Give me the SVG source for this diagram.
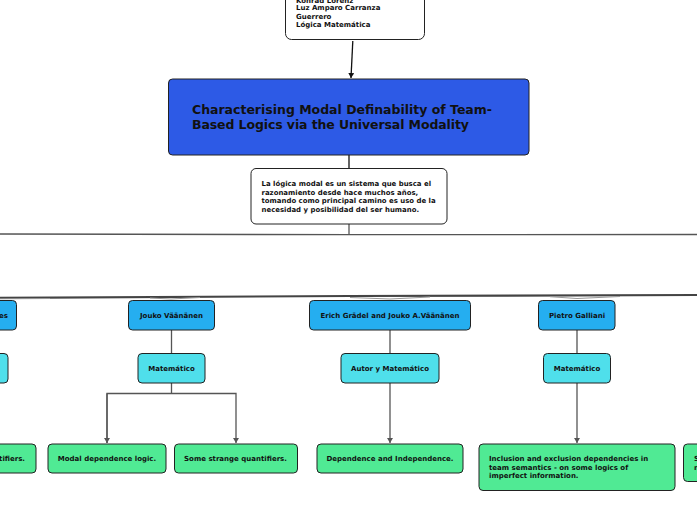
<svg xmlns="http://www.w3.org/2000/svg" width="697" height="520" viewBox="0 0 697 520">
<style>
text{font-family:"DejaVu Sans",sans-serif;font-weight:700;fill:#111;font-size:7px}
.c{text-anchor:middle}
.n{stroke:#222;stroke-width:1}
.a{fill:#25aef0}.b{fill:#4fdfeb}.g{fill:#50ea94}
.l{fill:none;stroke:#555;stroke-width:1.3}
.k{fill:none;stroke:#111;stroke-width:1.3}
.s{fill:none;stroke:#999;stroke-width:1}
</style>
<defs>
<marker id="m" markerWidth="6" markerHeight="6" refX="5" refY="3" orient="auto" markerUnits="userSpaceOnUse"><path d="M0 0L5 3L0 6z" fill="#555"/></marker>
<marker id="k" markerWidth="6" markerHeight="6" refX="5" refY="3" orient="auto" markerUnits="userSpaceOnUse"><path d="M0 0L5 3L0 6z" fill="#111"/></marker>
</defs>
<g id="connectors">
<path class="k" d="M352.800 41L351 78" marker-end="url(#k)"/>
<path class="k" d="M349 155V169"/>
<path class="l" d="M349 224V234"/>
<path class="l" d="M0 234L349 234.700L697 234.500"/>
<path d="M0 297.800L350 296L697 295" fill="none" stroke="#444" stroke-width="2.200"/>
<path class="s" d="M0 298.800L50 298.500M150 298L171 299L200 297.500M350 297.500L390 299L430 297M550 296.700L577 298.500L620 296.500"/>
<path class="l" d="M171.500 330V353M390 330V353M577 330V353"/>
<path class="l" d="M171.500 383V393.500"/>
<path class="l" d="M107 443V393.500H236V443" marker-end="url(#m)"/>
<path class="l" d="M107 393.500V443" marker-end="url(#m)"/>
<path class="l" d="M390 383V443" marker-end="url(#m)"/>
<path class="l" d="M577 383V443" marker-end="url(#m)"/>
</g>
<g id="author"><rect class="n" x="285.500" y="-30" width="139" height="69.500" rx="6" fill="#fff"/>
<text x="296" y="3">Konrad Lorenz</text><text x="296" y="10">Luz Amparo Carranza</text><text x="296" y="18.500">Guerrero</text><text x="296" y="27">Lógica Matemática</text></g>
<g id="title"><rect class="n" x="168.500" y="79" width="360.500" height="76" rx="4" fill="#2d5ae6"/>
<text style="font-size:12.500px" x="192" y="114" textLength="300">Characterising Modal Definability of Team-</text><text style="font-size:12.500px" x="192" y="129" textLength="277">Based Logics via the Universal Modality</text></g>
<g id="summary"><rect class="n" x="251" y="168.500" width="196" height="55.500" rx="5" fill="#fff"/>
<text style="font-size:6.950px" x="261.500" y="186">La lógica modal es un sistema que busca el</text><text style="font-size:6.950px" x="261.500" y="195">razonamiento desde hace muchos años,</text><text style="font-size:6.950px" x="261.500" y="203">tomando como principal camino es uso de la</text><text style="font-size:6.950px" x="261.500" y="212">necesidad y posibilidad del ser humano.</text></g>
<g id="n-left-a"><rect class="n a" x="-40" y="300.500" width="56.500" height="29.500" rx="4"/><text x="-1" y="318">es</text></g>
<g id="n-left-b"><rect class="n b" x="-40" y="353.500" width="48" height="29.500" rx="4"/></g>
<g id="n-left-c"><rect class="n g" x="-60" y="444" width="96" height="29" rx="4"/><text x="25" y="461" text-anchor="end">tifiers.</text></g>
<g id="n-jouko"><rect class="n a" x="128.500" y="300.500" width="86" height="29.500" rx="4"/><text class="c" x="171.500" y="318">Jouko Väänänen</text></g>
<g id="n-jouko-role"><rect class="n b" x="138" y="353.500" width="67" height="29.500" rx="4"/><text class="c" x="171.500" y="371">Matemático</text></g>
<g id="n-modal"><rect class="n g" x="48" y="444" width="118" height="29" rx="4"/><text class="c" x="107" y="461">Modal dependence logic.</text></g>
<g id="n-strange"><rect class="n g" x="174.500" y="444" width="123" height="29" rx="4"/><text class="c" x="235.500" y="461">Some strange quantifiers.</text></g>
<g id="n-erich"><rect class="n a" x="309.500" y="300.500" width="161" height="29.500" rx="4"/><text class="c" x="390" y="318">Erich Grädel and Jouko A.Väänänen</text></g>
<g id="n-erich-role"><rect class="n b" x="341" y="353.500" width="98" height="29.500" rx="4"/><text class="c" x="390" y="371">Autor y Matemático</text></g>
<g id="n-dep"><rect class="n g" x="317" y="444" width="146" height="29" rx="4"/><text class="c" x="390" y="461">Dependence and Independence.</text></g>
<g id="n-pietro"><rect class="n a" x="538.500" y="300.500" width="76.500" height="29.500" rx="4"/><text class="c" x="577" y="318">Pietro Galliani</text></g>
<g id="n-pietro-role"><rect class="n b" x="543.500" y="353.500" width="67" height="29.500" rx="4"/><text class="c" x="577" y="371">Matemático</text></g>
<g id="n-inclusion"><rect class="n g" x="479" y="444" width="196" height="46.500" rx="4"/><text x="489" y="461">Inclusion and exclusion dependencies in</text><text x="489" y="470">team semantics - on some logics of</text><text x="489" y="478">imperfect information.</text></g>
<g id="n-right"><rect class="n g" x="683.500" y="444" width="60" height="37.500" rx="4"/><text x="694" y="461">S</text><text x="694" y="470">n</text></g>
</svg>
